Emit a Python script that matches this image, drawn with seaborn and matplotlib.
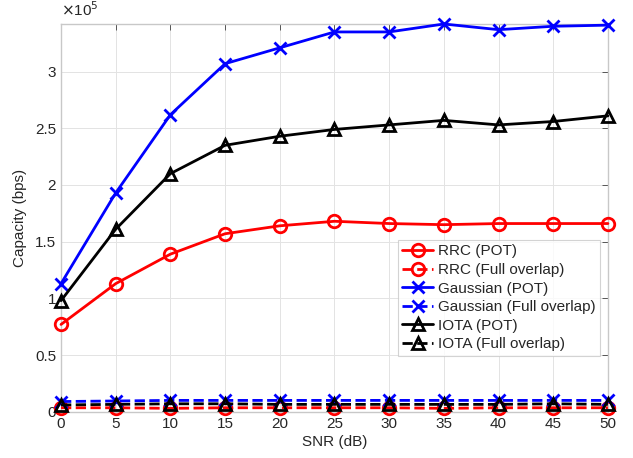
import numpy as np
import pandas as pd
import seaborn as sns
import matplotlib.pyplot as plt
from matplotlib.ticker import FuncFormatter

snr = [0, 5, 10, 15, 20, 25, 30, 35, 40, 45, 50]

# capacity values in bps (units of 1e5)
rrc_pot = [0.77, 1.13, 1.39, 1.57, 1.64, 1.68, 1.66, 1.65, 1.66, 1.66, 1.66]
rrc_full = [0.035, 0.035, 0.03, 0.035, 0.035, 0.035, 0.035, 0.03, 0.035, 0.035, 0.035]
gauss_pot = [1.13, 1.93, 2.62, 3.07, 3.21, 3.35, 3.35, 3.42, 3.37, 3.40, 3.41]
gauss_full = [0.09, 0.095, 0.10, 0.10, 0.10, 0.10, 0.10, 0.10, 0.10, 0.10, 0.10]
iota_pot = [0.98, 1.61, 2.10, 2.35, 2.43, 2.49, 2.53, 2.57, 2.53, 2.56, 2.61]
iota_full = [0.06, 0.065, 0.07, 0.07, 0.065, 0.065, 0.065, 0.065, 0.065, 0.07, 0.065]

series = [
    ('RRC (POT)', rrc_pot, 'red', 'o', '-'),
    ('RRC (Full overlap)', rrc_full, 'red', 'o', '--'),
    ('Gaussian (POT)', gauss_pot, 'blue', 'x', '-'),
    ('Gaussian (Full overlap)', gauss_full, 'blue', 'x', '--'),
    ('IOTA (POT)', iota_pot, 'black', '^', '-'),
    ('IOTA (Full overlap)', iota_full, 'black', '^', '--'),
]

sns.set_style('white')
plt.rcParams['font.family'] = ['Liberation Sans', 'DejaVu Sans']

fig = plt.figure(figsize=(6.33, 4.58), dpi=100)
ax = fig.add_axes([0.0964, 0.101, 0.864, 0.8466])

for name, vals, color, marker, ls in series:
    df = pd.DataFrame({'snr': snr, 'cap': np.array(vals) * 1e5})
    sns.lineplot(data=df, x='snr', y='cap', ax=ax, color=color, marker=marker,
                 linestyle=ls, linewidth=2, markersize=9,
                 markerfacecolor='none', markeredgecolor=color,
                 markeredgewidth=2, label=name, clip_on=False, zorder=3)

ax.set_xlim(0, 50)
ax.set_ylim(0, max(gauss_pot) * 1e5)
ax.set_xticks(snr)
ax.set_yticks(np.arange(0, 3.01, 0.5) * 1e5)
ax.yaxis.set_major_formatter(FuncFormatter(lambda v, p: f'{v / 1e5:g}'))
ax.text(0.0, 1.012, r'$\times$10$^5$', transform=ax.transAxes, fontsize=11,
        color='#262626', ha='left', va='bottom')

ax.grid(True, color='#e3e3e3', linewidth=0.7)
for sp in ax.spines.values():
    sp.set_color('#c8c8c8')
    sp.set_linewidth(1.0)
ax.tick_params(direction='in', length=4, width=0.7, colors='#555555',
               labelcolor='#262626', labelsize=11, top=True, right=True)

ax.set_xlabel('SNR (dB)', fontsize=11, color='#262626', labelpad=3)
ax.set_ylabel('Capacity (bps)', fontsize=11, color='#262626', labelpad=6)

leg = ax.legend(loc='lower right', bbox_to_anchor=(0.985, 0.144), fontsize=11,
                frameon=True, fancybox=False, handlelength=2.0, handletextpad=0.3,
                borderpad=0.3, labelspacing=0.3, borderaxespad=0)
leg.get_frame().set_edgecolor('#c8c8c8')
leg.get_frame().set_linewidth(0.8)
leg.set_zorder(5)

fig.savefig('out.png', dpi=100)
